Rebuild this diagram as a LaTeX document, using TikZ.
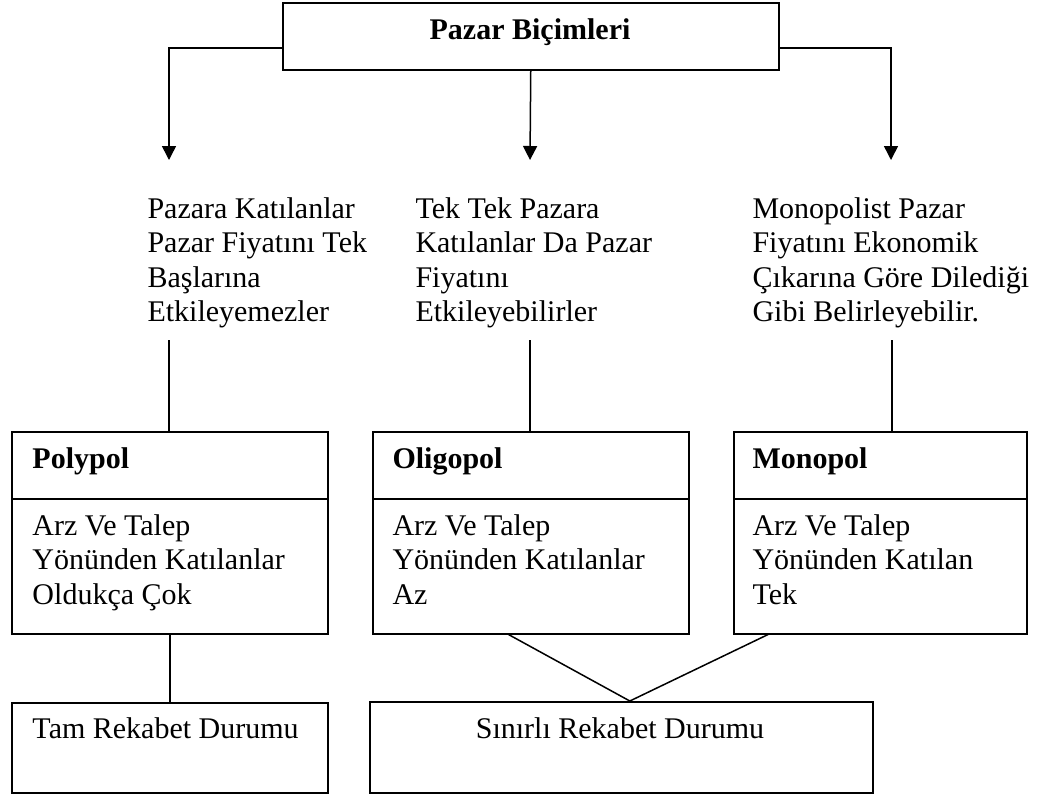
\documentclass[tikz,border=0pt]{standalone}
\usepackage{fontspec}
\setmainfont{Liberation Serif}
\usetikzlibrary{arrows.meta,calc}
\begin{document}
\begin{tikzpicture}[x=0.4pt,y=-0.4pt,
  every node/.style={font=\fontsize{12pt}{13.8pt}\selectfont},
  frame/.style={draw, line width=0.6pt, rectangle, inner sep=0pt, anchor=north west},
  txt/.style={anchor=base west, inner sep=0pt, align=left},
  head/.style={txt, font=\fontsize{12pt}{13.8pt}\selectfont\bfseries},
  link/.style={line width=0.6pt},
  arr/.style={link, -{Triangle[width=5.6pt,length=5.6pt]}}]
\useasboundingbox (0,0) rectangle (1039,795);

% title box
\node[frame, minimum width=198.4pt, minimum height=26.8pt] (top) at (282,2) {};
\node[anchor=base, inner sep=0pt, font=\fontsize{12pt}{13.8pt}\selectfont\bfseries] (title) at (530,39) {Pazar Biçimleri};

% arrow ends
\coordinate (tipL) at (169,160);
\coordinate (tipM) at (530,160);
\coordinate (tipR) at (891,160);
\draw[arr] ($(top.south west)!0.33!(top.north west)$) -| (tipL);
\draw[arr] (top.south) -- (tipM);
\draw[arr] ($(top.south east)!0.33!(top.north east)$) -| (tipR);

% descriptions (anchored at the baseline of their last line)
\node[txt] (d1) at (147,321.5) {Pazara Katılanlar\\Pazar Fiyatını Tek\\Başlarına\\Etkileyemezler};
\node[txt] (d2) at (415,321.5) {Tek Tek Pazara\\Katılanlar Da Pazar\\Fiyatını\\Etkileyebilirler};
\node[txt] (d3) at (752,321.5) {Monopolist Pazar\\Fiyatını Ekonomik\\Çıkarına Göre Dilediği\\Gibi Belirleyebilir.};

% market form boxes
\node[frame, minimum width=126.4pt, minimum height=26.8pt] (polyhead) at (11,431) {};
\node[frame, minimum width=126.4pt, minimum height=54pt] (polybody) at (11,498) {};
\node[frame, minimum width=126.4pt, minimum height=26.8pt] (oligohead) at (372,431) {};
\node[frame, minimum width=126.4pt, minimum height=54pt] (oligobody) at (372,498) {};
\node[frame, minimum width=117.2pt, minimum height=26.8pt] (monohead) at (733,431) {};
\node[frame, minimum width=117.2pt, minimum height=54pt] (monobody) at (733,498) {};

\node[head] (h1) at (32,468) {Polypol};
\node[head] (h2) at (392,468) {Oligopol};
\node[head] (h3) at (752,468) {Monopol};

\node[txt] (b1) at (32,604) {Arz Ve Talep\\Yönünden Katılanlar\\Oldukça Çok};
\node[txt] (b2) at (392,604) {Arz Ve Talep\\Yönünden Katılanlar\\Az};
\node[txt] (b3) at (752,604) {Arz Ve Talep\\Yönünden Katılan\\Tek};

% competition boxes
\node[frame, minimum width=126.4pt, minimum height=36pt] (tam) at (11,702) {};
\node[frame, minimum width=201.2pt, minimum height=36.4pt] (sin) at (369,701) {};
\node[txt] (tamtxt) at (32,738) {Tam Rekabet Durumu};
\node[anchor=base, inner sep=0pt] (sintxt) at (620,738) {Sınırlı Rekabet Durumu};

% connectors
\coordinate (a1) at (169,340);
\coordinate (a2) at (530,340);
\coordinate (a3) at (892,340);
\draw[link] (a1) -- (a1 |- polyhead.north);
\draw[link] (a2) -- (a2 |- oligohead.north);
\draw[link] (a3) -- (a3 |- monohead.north);
\draw[link] (polybody.south) -- (tam.north);
\draw[link] ($(oligobody.south west)!0.43!(oligobody.south east)$)
  -- ($(sin.north west)!0.517!(sin.north east)$)
  -- ($(monobody.south west)!0.119!(monobody.south east)$);
\end{tikzpicture}
\end{document}
